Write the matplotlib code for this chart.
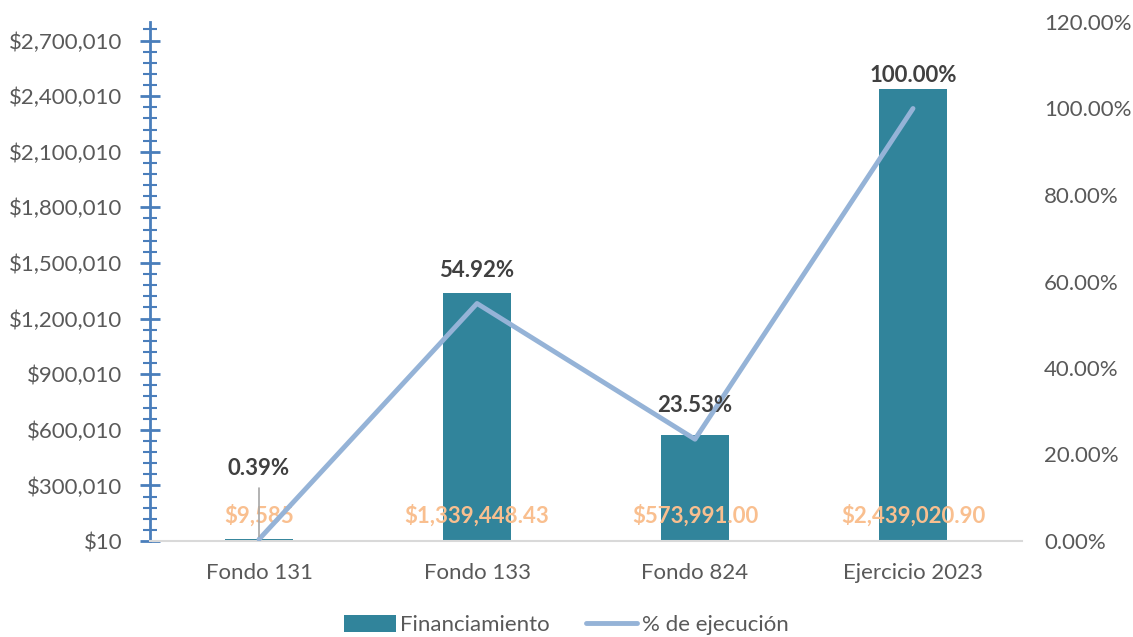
import matplotlib
matplotlib.use("Agg")
import matplotlib.pyplot as plt
from matplotlib.ticker import FixedLocator, FuncFormatter

categories = ["Fondo 131", "Fondo 133", "Fondo 824", "Ejercicio 2023"]
financiamiento = [9585, 1339448.43, 573991.00, 2439020.90]
amount_labels = ["$9,585", "$1,339,448.43", "$573,991.00", "$2,439,020.90"]
ejecucion = [0.39, 54.92, 23.53, 100.00]

plt.rcParams['font.family'] = ['Lato', 'DejaVu Sans']

BAR = "#31849B"
LINE = "#95B3D7"
AXBLUE = "#4A7EBB"
TXT = "#595959"
FS = 16

fig = plt.figure(figsize=(11.33, 6.37), dpi=100)
ax = fig.add_axes([150/1133, 1-541/637, (1022-150)/1133, (541-22)/637])
ax2 = ax.twinx()

x = list(range(len(categories)))
bars = ax.bar(x, financiamiento, width=0.31, color=BAR, zorder=2, label="Financiamiento")
ax.set_xlim(-0.5, 3.5)
ax.set_ylim(10, 2800010)
major = [10 + 300000*k for k in range(10)]
minor = [10 + 60000*k for k in range(47)]
ax.yaxis.set_major_locator(FixedLocator(major))
ax.yaxis.set_minor_locator(FixedLocator(minor))
ax.yaxis.set_major_formatter(FuncFormatter(lambda v, p: "${:,.0f}".format(v)))
ax.tick_params(axis='y', which='major', direction='inout', length=14, width=2, color=AXBLUE,
               labelsize=FS, labelcolor=TXT, pad=13)
ax.tick_params(axis='y', which='minor', direction='inout', length=10, width=1.5, color=AXBLUE)
ax.spines['left'].set_color(AXBLUE)
ax.spines['left'].set_linewidth(2)
ax.spines['bottom'].set_color("#D9D9D9")
ax.spines['bottom'].set_linewidth(1.5)
for s in ['top', 'right']:
    ax.spines[s].set_visible(False)
ax.set_xticks(x)
ax.set_xticklabels(categories)
ax.tick_params(axis='x', length=0, labelsize=FS, labelcolor=TXT, pad=16)

line, = ax2.plot(x, ejecucion, color=LINE, linewidth=3.5, zorder=3, label="% de ejecución",
                 solid_capstyle='round')
ax2.set_ylim(0, 120)
ax2.set_yticks([0, 20, 40, 60, 80, 100, 120])
ax2.yaxis.set_major_formatter(FuncFormatter(lambda v, p: "{:.2f}%".format(v)))
ax2.tick_params(axis='y', length=0, labelsize=FS, labelcolor=TXT, pad=16)
for s in ax2.spines.values():
    s.set_visible(False)

# amount labels (inside base)
for xi, lab in zip(x, amount_labels):
    ax.annotate(lab, (xi, 10), xytext=(0, 18), textcoords='offset points', ha='center', va='center',
                fontsize=FS, fontweight='bold', color="#F9BF8F", zorder=5)

# percentage labels
for i, (xi, v) in enumerate(zip(x, ejecucion)):
    lab = "{:.2f}%".format(v)
    if i == 0:
        ax2.annotate(lab, (xi, v), xytext=(0, 51), textcoords='offset points', ha='center', va='center',
                     fontsize=FS, fontweight='bold', color="#404040", zorder=6)
        ax2.annotate("", (xi, v), xytext=(xi, v + 12.5), textcoords='data',
                     arrowprops=dict(arrowstyle='-', color="#A6A6A6", lw=1.2), zorder=4)
    else:
        ax2.annotate(lab, (xi, v), xytext=(0, 24), textcoords='offset points', ha='center', va='center',
                     fontsize=FS, fontweight='bold', color="#404040", zorder=6)

ax2.set_zorder(ax.get_zorder() + 1)
ax2.patch.set_visible(False)

fig.legend([bars, line], ["Financiamiento", "% de ejecución"], loc='center',
           bbox_to_anchor=(0.5, 1-625/637), ncol=2, frameon=False, fontsize=FS,
           labelcolor=TXT, handlelength=2.3, handleheight=0.8, columnspacing=1.65, handletextpad=0.2)

fig.savefig("out.png", dpi=100)
